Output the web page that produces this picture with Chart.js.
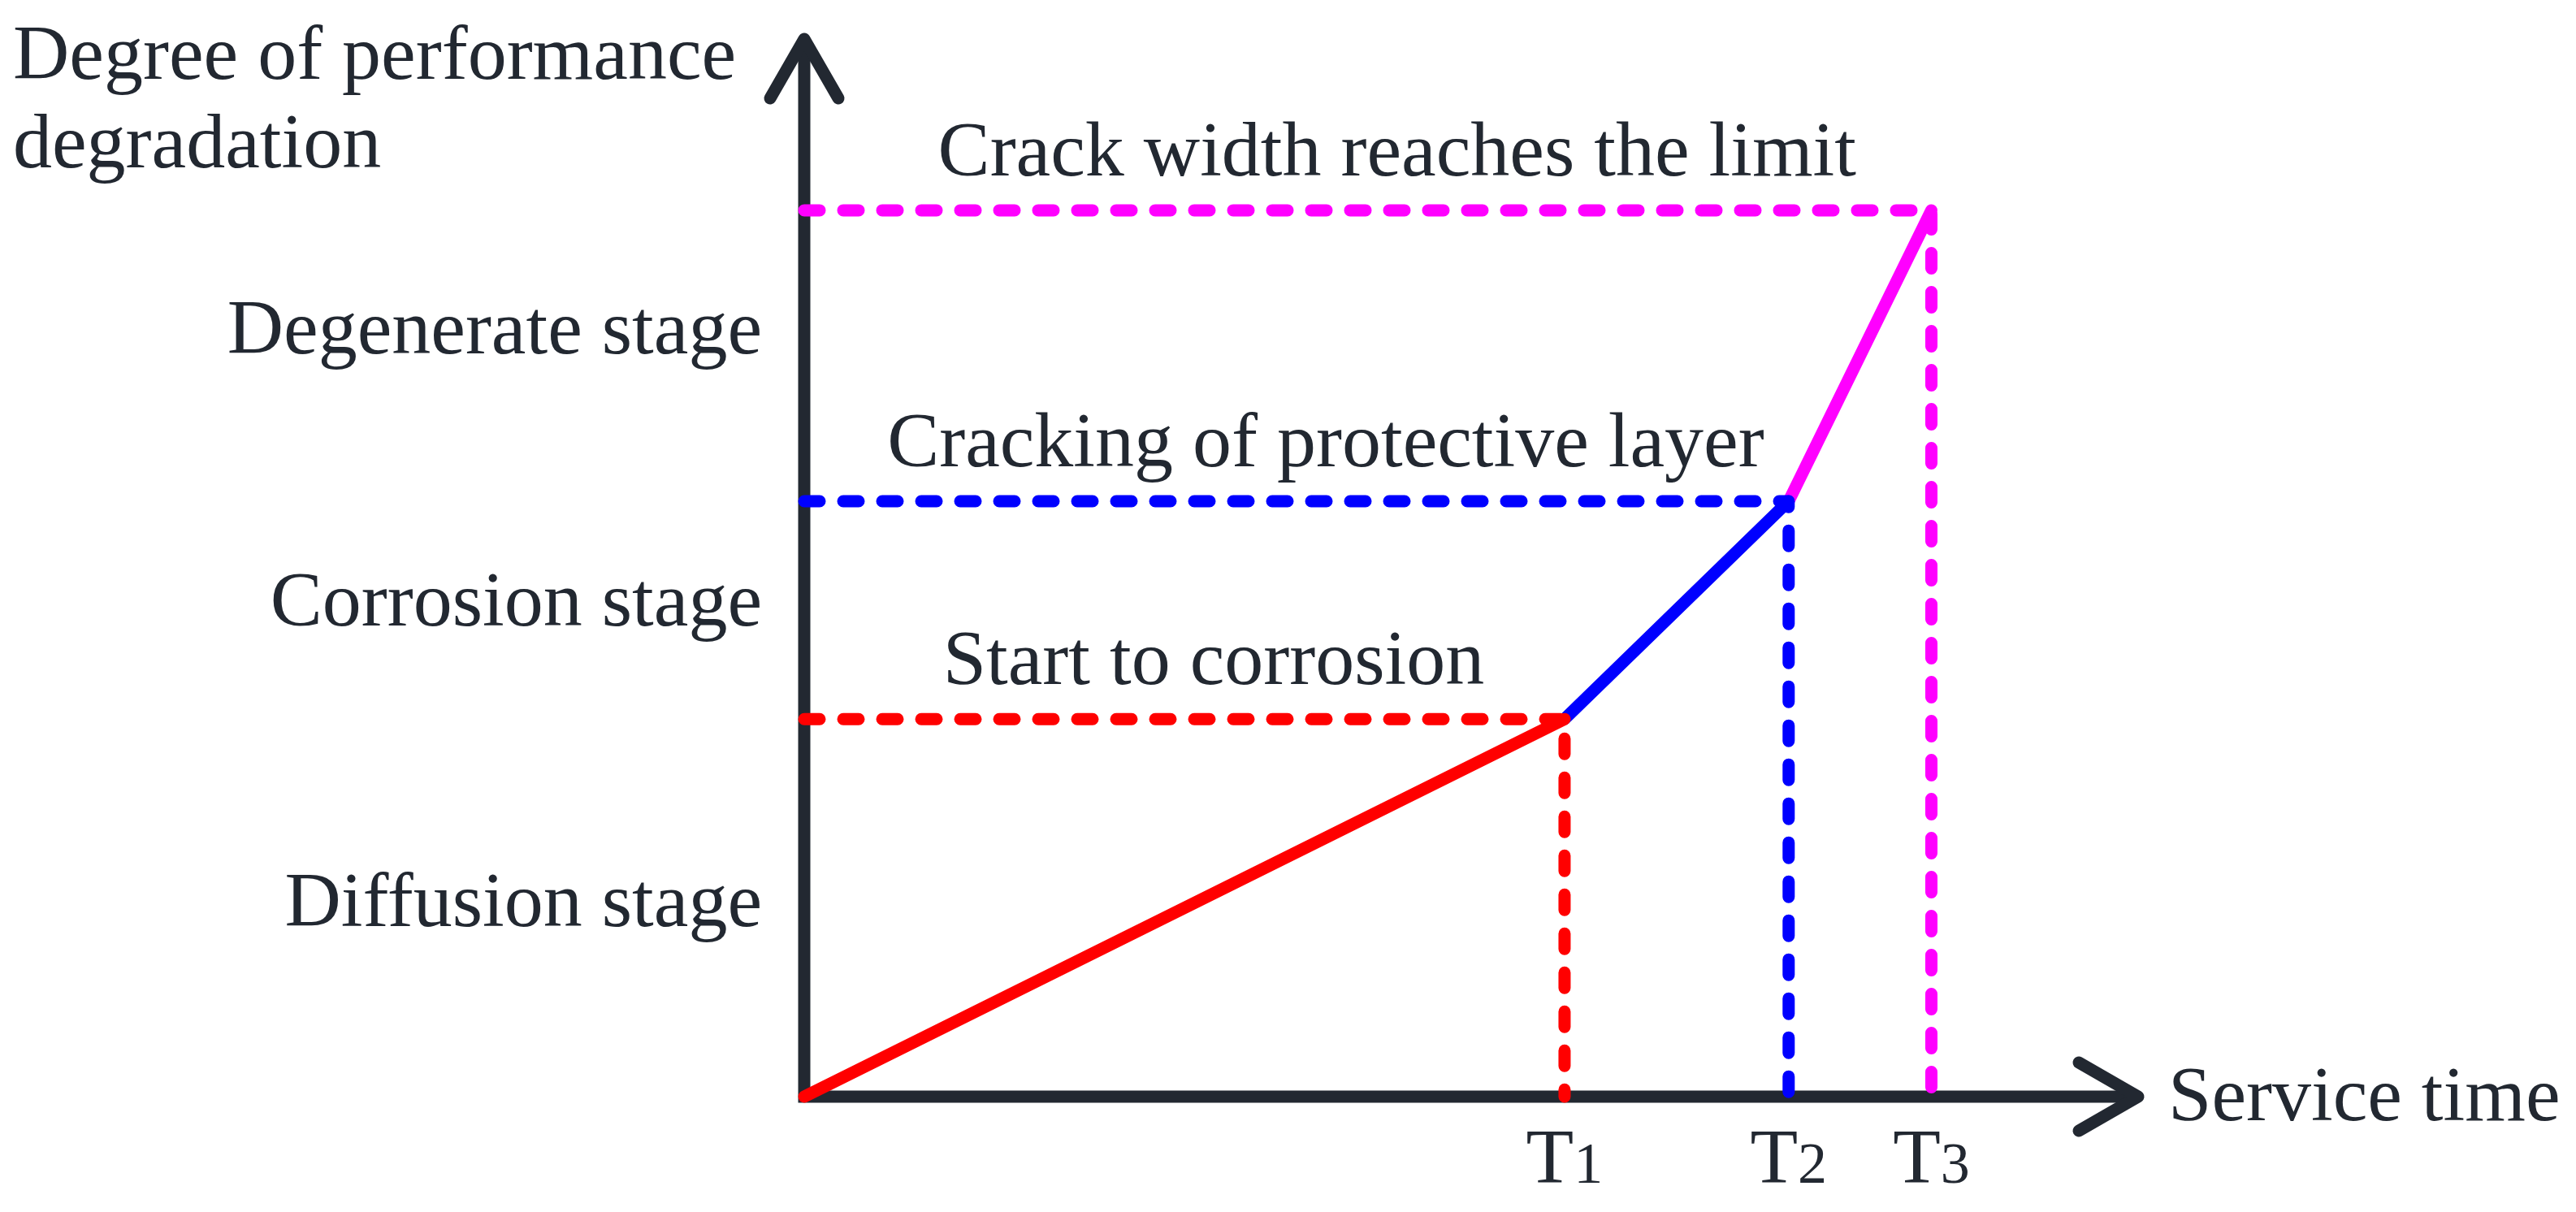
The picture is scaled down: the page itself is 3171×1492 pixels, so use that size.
<!DOCTYPE html>
<html><head><meta charset="utf-8"><title>Performance degradation</title>
<script src="https://cdn.jsdelivr.net/npm/chart.js"></script>
<style>html,body{margin:0;padding:0;background:#fff;}canvas{display:block;}</style>
</head>
<body>
<canvas id="c" width="3171" height="1492"></canvas>
<script>
// ==================== DATA ====================
const timeNames = ['T1', 'T2', 'T3'];
const timeX = [5.70, 7.38, 8.45];
const levelY = [3.57, 5.63, 8.38];
const eventLabels = ['Start to corrosion', 'Cracking of protective layer', 'Crack width reaches the limit'];
const stageLabels = ['Diffusion stage', 'Corrosion stage', 'Degenerate stage'];
const stageY = [1.81, 4.65, 7.22];
const lineColors = ['#ff0000', '#0000ff', '#ff00ff'];
const axisTitleY = ['Degree of performance', 'degradation'];
const axisTitleX = 'Service time';

const INK = '#222831';
const FONT = "'Liberation Serif', 'Times New Roman', serif";
const LW = 15;

// ==================== DATASETS ====================
const datasets = [];
// dashed guides: from the y axis to the point, then down to the x axis
timeX.forEach((tx, i) => {
    datasets.push({
        data: [{ x: 0, y: levelY[i] }, { x: tx, y: levelY[i] }, { x: tx, y: 0 }],
        borderColor: lineColors[i], borderWidth: LW, borderDash: [19, 29],
        borderCapStyle: 'round', borderJoinStyle: 'round',
        pointRadius: 0, tension: 0, clip: false, order: 0
    });
});
// solid degradation path, one segment per stage
timeX.forEach((tx, i) => {
    const x0 = i === 0 ? 0 : timeX[i - 1];
    const y0 = i === 0 ? 0 : levelY[i - 1];
    datasets.push({
        data: [{ x: x0, y: y0 }, { x: tx, y: levelY[i] }],
        borderColor: lineColors[i], borderWidth: LW,
        borderCapStyle: 'round', borderJoinStyle: 'round',
        pointRadius: 0, tension: 0, clip: false, order: 1
    });
});

// ==================== PLUGINS ====================
const axesPlugin = {
    id: 'axes',
    beforeDatasetsDraw(chart) {
        const { ctx, chartArea: a } = chart;
        const h = LW / 2;
        ctx.save();
        ctx.strokeStyle = INK;
        ctx.lineWidth = LW;
        ctx.lineCap = 'butt';
        ctx.beginPath();
        ctx.moveTo(a.left, a.bottom + h); ctx.lineTo(a.left, a.top + 4);
        ctx.moveTo(a.left - h, a.bottom); ctx.lineTo(a.right - 4, a.bottom);
        ctx.stroke();
        ctx.lineCap = 'round';
        ctx.lineJoin = 'round';
        ctx.beginPath();
        ctx.moveTo(a.left - 42, a.top + 73); ctx.lineTo(a.left, a.top); ctx.lineTo(a.left + 42, a.top + 73);
        ctx.moveTo(a.right - 73, a.bottom - 42); ctx.lineTo(a.right, a.bottom); ctx.lineTo(a.right - 73, a.bottom + 42);
        ctx.stroke();
        ctx.restore();
    }
};

const textPlugin = {
    id: 'texts',
    afterDraw(chart) {
        const { ctx, chartArea: a, scales: { x, y } } = chart;
        ctx.save();
        ctx.fillStyle = INK;
        ctx.font = '96px ' + FONT;

        // y axis title
        ctx.textAlign = 'left';
        ctx.textBaseline = 'alphabetic';
        ctx.fillText(axisTitleY[0], 16, 97);
        ctx.fillText(axisTitleY[1], 16, 206);

        // x axis title
        ctx.textBaseline = 'middle';
        ctx.fillText(axisTitleX, a.right + 37, a.bottom + 4);

        // stage labels on the y axis
        ctx.textAlign = 'right';
        stageLabels.forEach((s, i) => ctx.fillText(s, a.left - 52, y.getPixelForValue(stageY[i])));

        // event labels above the dashed guides
        ctx.textAlign = 'center';
        ctx.textBaseline = 'alphabetic';
        eventLabels.forEach((s, i) => {
            const px = x.getPixelForValue(timeX[i]);
            const py = y.getPixelForValue(levelY[i]);
            ctx.fillText(s, (a.left + px) / 2 + 36, py - 43);
        });

        // T1..T3 with smaller digit
        ctx.textAlign = 'left';
        timeNames.forEach((t, i) => {
            const px = x.getPixelForValue(timeX[i]);
            ctx.font = '96px ' + FONT;
            const wT = ctx.measureText(t[0]).width;
            ctx.font = '72px ' + FONT;
            const wD = ctx.measureText(t.slice(1)).width;
            const left = px - (wT + wD) / 2;
            const base = a.bottom + 106;
            ctx.font = '96px ' + FONT;
            ctx.fillText(t[0], left, base);
            ctx.font = '72px ' + FONT;
            ctx.fillText(t.slice(1), left + wT, base);
        });
        ctx.restore();
    }
};

// ==================== CHART ====================
new Chart(document.getElementById('c'), {
    type: 'line',
    data: { datasets },
    options: {
        responsive: false,
        animation: false,
        devicePixelRatio: 1,
        events: [],
        layout: { padding: { left: 990, right: 539, top: 48, bottom: 142 } },
        plugins: { legend: { display: false }, tooltip: { enabled: false } },
        scales: {
            x: { type: 'linear', min: 0, max: 10, display: false },
            y: { type: 'linear', min: 0, max: 10, display: false }
        }
    },
    plugins: [axesPlugin, textPlugin]
});
</script>
</body></html>
